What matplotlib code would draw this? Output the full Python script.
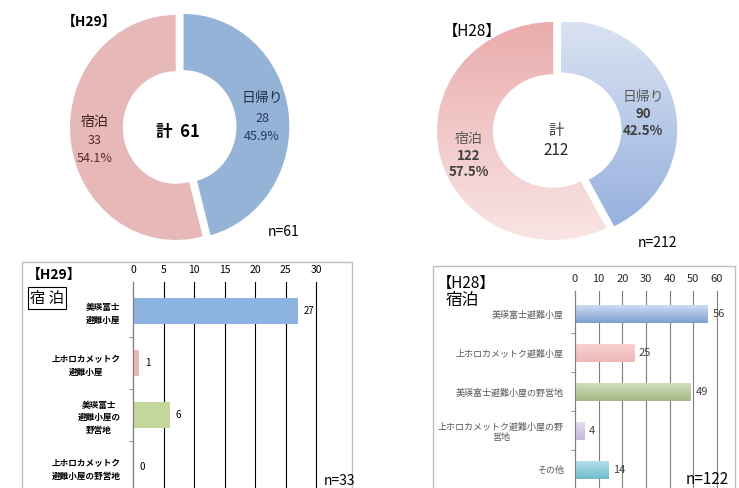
import matplotlib

matplotlib.use("Agg")
import matplotlib.pyplot as plt  # noqa: E402
import numpy as np  # noqa: E402
from matplotlib.colors import LinearSegmentedColormap  # noqa: E402

plt.rcParams["font.family"] = ["Noto Sans CJK JP", "DejaVu Sans"]

# H29 / H28 day-trip vs overnight split
trip_labels = ["日帰り", "宿泊"]
h29_trip = [28, 33]
h28_trip = [90, 122]

# overnight place breakdown
h29_places = ["美瑛富士\n避難小屋", "上ホロカメットク\n避難小屋", "美瑛富士\n避難小屋の\n野営地",
              "上ホロカメットク\n避難小屋の野営地"]
h29_stay = [27, 1, 6, 0]
h28_places = ["美瑛富士避難小屋", "上ホロカメットク避難小屋", "美瑛富士避難小屋の野営地",
              "上ホロカメットク避難小屋の野\n営地", "その他"]
h28_stay = [56, 25, 49, 4, 14]

W, H = 739, 488
fig = plt.figure(figsize=(W / 100, H / 100), dpi=100)


def rect(l, t, r, b):
    return [l / W, 1 - b / H, (r - l) / W, (b - t) / H]


def put(x, y, s, **kw):
    kw.setdefault("ha", "center")
    kw.setdefault("va", "center")
    fig.text(x / W, 1 - y / H, s, **kw)


def pct(v, vals):
    return f"{v / sum(vals) * 100:.1f}%"


# ---- H29 donut ----
ax = fig.add_axes(rect(70, 15, 292, 240))
ax.pie(h29_trip, startangle=90, counterclock=False, colors=["#95b3d7", "#e6b9b8"],
       explode=[0.075, 0], wedgeprops=dict(width=0.5, linewidth=0))
ax.set_aspect("auto")
ax.set_xlim(-1, 1.1)
ax.set_ylim(-1, 1)

put(62, 22, "【H29】", fontsize=10, fontweight="bold", ha="left")
put(262, 98, trip_labels[0], fontsize=10, color="#1f2d4a")
put(262, 118, str(h29_trip[0]), fontsize=9, color="#243a5e")
put(262, 136, pct(h29_trip[0], h29_trip), fontsize=9, color="#243a5e")
put(95, 122, trip_labels[1], fontsize=10, color="#3b1f1f")
put(95, 141, str(h29_trip[1]), fontsize=9, color="#5a2a2a")
put(95, 158, pct(h29_trip[1], h29_trip), fontsize=9, color="#5a2a2a")
put(178, 132, f"計  {sum(h29_trip)}", fontsize=12, fontweight="bold")
put(268, 232, "n=61", fontsize=10, ha="left")

# ---- H28 donut (gradient fill) ----
ax = fig.add_axes(rect(437, 22, 681, 240))
wedges, _ = ax.pie(h28_trip, startangle=90, counterclock=False, colors=["#b0c4e8", "#f0c4c4"],
                   explode=[0.07, 0], wedgeprops=dict(width=0.48, linewidth=0))
grads = [LinearSegmentedColormap.from_list("b", ["#e1e8f4", "#8ba7da"]),
         LinearSegmentedColormap.from_list("p", ["#e8a6a6", "#fbeaea"])]
g = np.linspace(0, 1, 256).reshape(-1, 1)
for w, cm in zip(wedges, grads):
    im = ax.imshow(g, cmap=cm, extent=(-1.2, 1.2, -1.2, 1.2), aspect="auto", origin="upper")
    im.set_clip_path(w)
    w.set_facecolor("none")
ax.set_aspect("auto")
ax.set_xlim(-1, 1.1)
ax.set_ylim(-1, 1)
ax.axis("off")

put(443, 31, "【H28】", fontsize=11, ha="left")
put(643, 97, trip_labels[0], fontsize=10, color="#595959")
put(643, 114, str(h28_trip[0]), fontsize=9.5, color="#404040", fontweight="semibold")
put(643, 131, pct(h28_trip[0], h28_trip), fontsize=9.5, color="#404040", fontweight="semibold")
put(469, 139, trip_labels[1], fontsize=10, color="#595959")
put(469, 156, str(h28_trip[1]), fontsize=9.5, color="#404040", fontweight="semibold")
put(469, 172, pct(h28_trip[1], h28_trip), fontsize=9.5, color="#404040", fontweight="semibold")
put(556, 130, "計", fontsize=11, color="#404040")
put(556, 151, str(sum(h28_trip)), fontsize=11, color="#262626")
put(638, 243, "n=212", fontsize=10, ha="left")

# ---- H29 overnight bars ----
fig.add_artist(plt.Rectangle((22 / W, -0.05), 330 / W, 1 - 262 / H + 0.05,
                             transform=fig.transFigure, fill=False, ec="#bfbfbf", lw=1))
ax = fig.add_axes(rect(133, 282, 316, 498))
y = np.arange(len(h29_stay))
bars = ax.barh(y, h29_stay, height=0.5, color=["#8db3e2", "#e6b9b8", "#c3d69b", "#b3a2c7"])
ax.set_xlim(0, 30)
ax.set_ylim(3.6, -0.56)
ax.xaxis.tick_top()
ax.set_xticks(range(0, 31, 5))
ax.tick_params(axis="x", length=0, labelsize=7.5, pad=5)
ax.set_yticks(y)
ax.set_yticklabels(h29_places, fontsize=6.2, fontweight="bold", multialignment="center",
                   linespacing=1.5)
ax.tick_params(axis="y", length=0, pad=9)
ax.set_yticks(np.arange(0.5, 3.5, 1), minor=True)
ax.tick_params(axis="y", which="minor", length=3, color="#7f7f7f")
ax.grid(axis="x", color="black", lw=0.8)
for gl in ax.get_xgridlines():
    gl.set_clip_on(False)
ax.set_axisbelow(True)
for s in ["top", "right", "bottom"]:
    ax.spines[s].set_visible(False)
ax.spines["left"].set_color("#7f7f7f")
for b, v in zip(bars, h29_stay):
    ax.text(v + 1.0, b.get_y() + b.get_height() / 2, str(v), va="center", fontsize=7)

put(27, 275, "【H29】", fontsize=10, fontweight="bold", ha="left")
fig.text(30 / W, 1 - 298 / H, "宿 泊", fontsize=11, va="center", ha="left",
         bbox=dict(boxstyle="square,pad=0.15", fc="white", ec="black", lw=0.8))
put(324, 481, "n=33", fontsize=10, ha="left")

# ---- H28 overnight bars (gradient fill) ----
fig.add_artist(plt.Rectangle((433 / W, -0.05), 302 / W, 1 - 266 / H + 0.05,
                             transform=fig.transFigure, fill=False, ec="#bfbfbf", lw=1))
ax = fig.add_axes(rect(575, 291, 717, 493))
y = np.arange(len(h28_stay))
bar_grads = [("#cfdcf1", "#7d9dd3"), ("#f7d0d0", "#f0b8b8"), ("#d0ddc0", "#a3ba85"),
             ("#e4ddef", "#c4b8da"), ("#b4e0e8", "#6dbccc")]
bars = ax.barh(y, h28_stay, height=0.46, color=[c[1] for c in bar_grads])
for b, (c0, c1) in zip(bars, bar_grads):
    cm = LinearSegmentedColormap.from_list("g", [c0, c1])
    x0, y0, bw, bh = b.get_x(), b.get_y(), b.get_width(), b.get_height()
    ax.imshow(g, cmap=cm, extent=(x0, x0 + bw, y0 + bh, y0), aspect="auto", zorder=2.5)
ax.set_xlim(0, 60)
ax.set_ylim(4.6, -0.59)
ax.xaxis.tick_top()
ax.set_xticks(range(0, 61, 10))
ax.tick_params(axis="x", length=0, labelsize=8, pad=5, labelcolor="#262626")
ax.set_yticks(y)
ax.set_yticklabels(h28_places, fontsize=6.5, color="#595959", multialignment="center")
ax.tick_params(axis="y", length=0, pad=8)
ax.set_yticks(np.arange(0.5, 4.5, 1), minor=True)
ax.tick_params(axis="y", which="minor", length=3, color="#7f7f7f")
ax.grid(axis="x", color="#7f7f7f", lw=0.8)
for gl in ax.get_xgridlines():
    gl.set_clip_on(False)
ax.set_axisbelow(True)
for s in ["top", "right", "bottom"]:
    ax.spines[s].set_visible(False)
ax.spines["left"].set_color("#7f7f7f")
for b, v in zip(bars, h28_stay):
    ax.text(v + 2.0, b.get_y() + b.get_height() / 2, str(v), va="center", fontsize=8,
            color="#404040", zorder=4)

put(437, 283, "【H28】", fontsize=11, ha="left")
put(446, 301, "宿泊", fontsize=12, ha="left")
put(686, 480, "n=122", fontsize=11, ha="left")

fig.savefig("out.png", dpi=100)
